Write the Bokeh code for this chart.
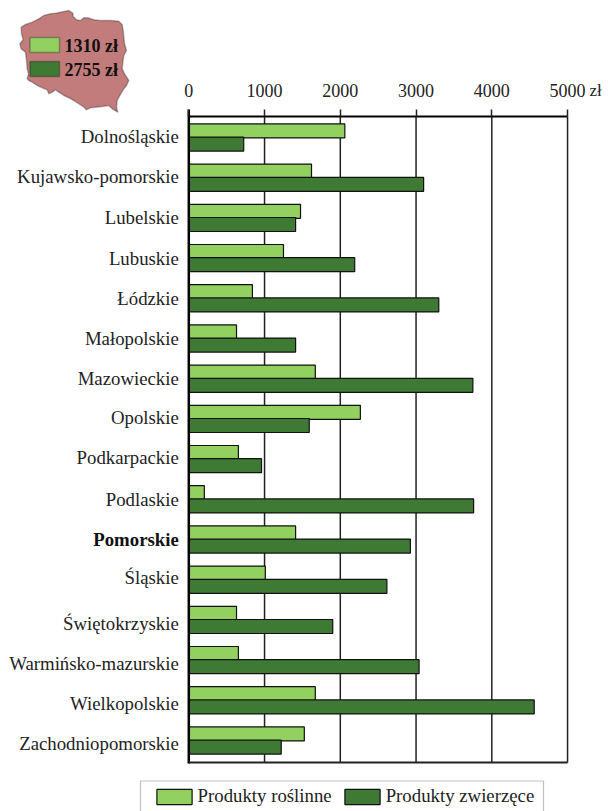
from bokeh.plotting import figure
from bokeh.models import (Range1d, LinearAxis, FixedTicker, Label, Legend, LegendItem, BoxAnnotation,
                          PolyAnnotation)
from bokeh.embed import file_html
from bokeh.resources import INLINE

regions = ["Dolnośląskie", "Kujawsko-pomorskie", "Lubelskie", "Lubuskie", "Łódzkie", "Małopolskie",
           "Mazowieckie", "Opolskie", "Podkarpackie", "Podlaskie", "Pomorskie", "Śląskie",
           "Świętokrzyskie", "Warmińsko-mazurskie", "Wielkopolskie", "Zachodniopomorskie"]
roslinne = [2060, 1620, 1475, 1250, 840, 630, 1670, 2265, 655, 205, 1410, 1010, 630, 655, 1670, 1525]
zwierzece = [725, 3100, 1410, 2190, 3300, 1410, 3750, 1590, 960, 3760, 2925, 2615, 1900, 3040, 4560, 1220]
x_ticks = [0, 1000, 2000, 3000, 4000, 5000]
label_shift = [-0.02, -0.02, -0.02, 0, 0, 0, 0, -0.03, -0.03, 0, 0, -0.05, 0.09, 0.08, 0.08, 0.08]
avg_labels = ["1310 zł", "2755 zł"]
series_names = ["Produkty roślinne", "Produkty zwierzęce"]
LIGHT = "#92d060"
DARK = "#3f7a35"
FONT = "Liberation Serif"
INK = "#222222"

W, H = 613, 811
PX0, PY0 = 188.3, 137.0       # page pixel of x = 0 and of the first group
PXK, PYI = 75.75, 40.2        # px per 1000 zł, px per group
AX_TOP, AX_BOTTOM = 116, 762
def dx(px): return (px - PX0) / PXK * 1000
def dy(py): return (py - PY0) / PYI

p = figure(width=W, height=H, output_backend="svg", toolbar_location=None,
           x_range=Range1d(dx(0), dx(W)), y_range=Range1d(dy(H), dy(0)),
           x_axis_location=None, y_axis_location=None,
           min_border=0, outline_line_color=None, background_fill_color=None, border_fill_color=None)
p.grid.visible = False

# vertical grid
p.segment(x_ticks[1:], [dy(AX_BOTTOM)] * 5, x_ticks[1:], [dy(AX_TOP)] * 5, line_color=INK, line_width=1.5)

# bars
idx = list(range(len(regions)))
off = 6.6 / PYI
r1 = p.hbar(y=[i - off for i in idx], right=roslinne, left=0, height=14.0 / PYI, fill_color=LIGHT,
            line_color="#111111", line_width=1.2)
r2 = p.hbar(y=[i + off for i in idx], right=zwierzece, left=0, height=14.0 / PYI, fill_color=DARK,
            line_color="#111111", line_width=1.2)

# top axis
top = LinearAxis(ticker=FixedTicker(ticks=x_ticks), fixed_location=dy(AX_TOP), axis_line_color=None,
                 major_tick_in=0, major_tick_out=7, major_tick_line_color=INK,
                 major_tick_line_width=1.5, minor_tick_line_color=None, major_label_standoff=13,
                 major_label_text_font=FONT, major_label_text_font_size="18px", major_label_text_color=INK)
p.add_layout(top, "above")

# left axis with region names; the bold one has its own axis
plain = [i for i, r in enumerate(regions) if r != "Pomorskie"]
ticks = [i + label_shift[i] for i in plain]
over = {i + label_shift[i]: regions[i] for i in plain}
common = dict(fixed_location=0, major_tick_line_color=None, minor_tick_line_color=None, major_label_standoff=4,
              major_label_text_font=FONT, major_label_text_font_size="18.8px", major_label_text_baseline="middle")
p.add_layout(LinearAxis(ticker=FixedTicker(ticks=ticks), major_label_overrides=over, axis_line_color=None,
                        major_label_text_color=INK, **common), "left")
bold_i = regions.index("Pomorskie")
p.add_layout(LinearAxis(ticker=FixedTicker(ticks=[bold_i]), major_label_overrides={bold_i: "Pomorskie"},
                        axis_line_color=None, major_label_text_color="#111111",
                        major_label_text_font_style="bold", **common), "left")

# axis frame lines
p.segment([0], [dy(AX_TOP - 7)], [0], [dy(AX_BOTTOM + 1)], line_color="black", line_width=2.5)
p.segment([0], [dy(AX_BOTTOM)], [5000], [dy(AX_BOTTOM)], line_color=INK, line_width=2)
p.segment([0], [dy(AX_TOP)], [5000], [dy(AX_TOP)], line_color="black", line_width=2)

def text(px, py, s, **kw):
    p.add_layout(Label(x=dx(px), y=dy(py), text=s, text_font=FONT, text_color=kw.pop("color", INK),
                       text_baseline="middle", **kw))

text(589, 90, "zł", text_align="left", text_font_size="17px")

# map inset (outline, in 1/3 px)
map_x = [62,75,95,115,130,150,165,190,205,217,218,228,240,250,262,280,300,330,355,365,368,370,372,378,370,367,365,372,385,378,368,358,350,348,352,335,325,305,285,270,258,248,235,220,205,190,175,165,155,145,140,125,110,95,85,80,84,80,78,75,62,58,68,63]
map_y = [80,72,65,55,45,40,38,33,30,38,48,58,60,52,52,58,60,60,62,72,90,110,130,150,165,185,205,220,240,255,268,285,300,320,335,325,315,318,320,322,328,318,310,300,292,285,275,268,275,280,268,262,255,245,240,235,220,205,180,155,145,130,118,100]
p.add_layout(PolyAnnotation(xs=[dx(v / 3) for v in map_x], ys=[dy(v / 3) for v in map_y],
                            fill_color="#c27c7c", fill_alpha=1, line_color="#111111", line_width=1.5))
for top_px, col, txt in zip([37, 61], [LIGHT, DARK], avg_labels):
    p.add_layout(BoxAnnotation(left=dx(29.5), right=dx(59), top=dy(top_px), bottom=dy(top_px + 15),
                               fill_color=col, fill_alpha=1, line_color="#111111", line_width=1.5))
    text(64, top_px + 8, txt, text_align="left", text_font_size="18px", text_font_style="bold", color="#111111")

# legend
p.add_layout(BoxAnnotation(left=dx(140), right=dx(543), top=dy(780.5), bottom=dy(830),
                           fill_color="white", fill_alpha=1, line_color="#333333", line_width=1.2))
legend = Legend(items=[LegendItem(label=series_names[0], renderers=[r1]),
                       LegendItem(label=series_names[1], renderers=[r2])],
                orientation="horizontal", location=(151.6, H - 807),
                glyph_width=44, glyph_height=19, label_standoff=2, spacing=8, padding=0, margin=0,
                border_line_color=None, background_fill_alpha=0, label_text_font=FONT,
                label_text_font_size="18.8px", label_text_color=INK, label_height=15)
p.add_layout(legend)

open("out.html", "w").write(file_html(p, INLINE))
